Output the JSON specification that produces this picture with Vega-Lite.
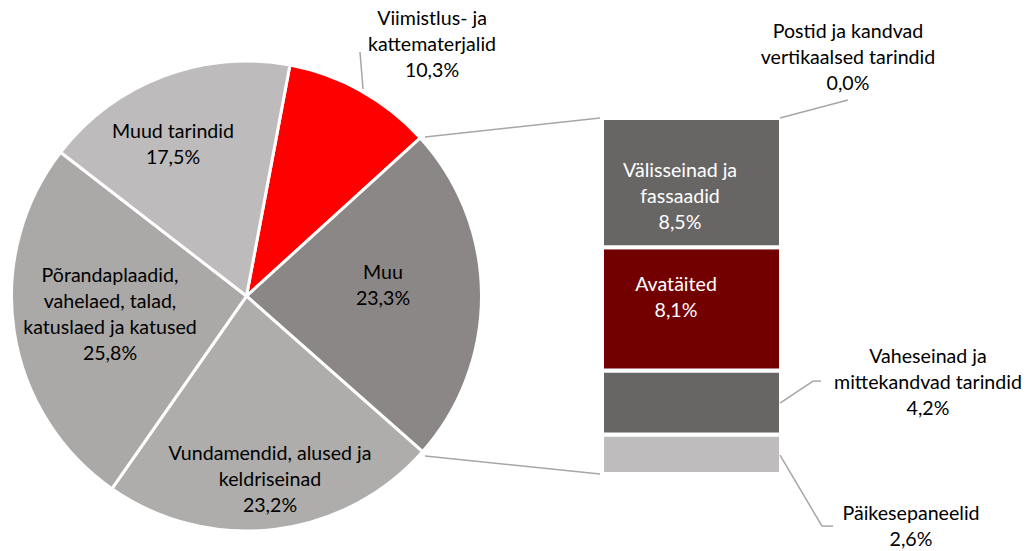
{
  "$schema": "https://vega.github.io/schema/vega-lite/v6.json",
  "width": 1030,
  "height": 551,
  "padding": 0,
  "autosize": {"type": "none"},
  "background": "white",
  "config": {
    "view": {"stroke": null},
    "text": {"font": "Lato", "fontSize": 19.6, "lineBreak": "\n", "lineHeight": 26, "baseline": "middle", "align": "center", "color": "#000000"}
  },
  "datasets": {
    "pie": [
      {"kategooria": "Viimistlus- ja\nkattematerjalid", "osakaal": 10.3, "jrk": 1},
      {"kategooria": "Muu", "osakaal": 23.3, "jrk": 2},
      {"kategooria": "Vundamendid, alused ja\nkeldriseinad", "osakaal": 23.2, "jrk": 3},
      {"kategooria": "Põrandaplaadid,\nvahelaed, talad,\nkatuslaed ja katused", "osakaal": 25.8, "jrk": 4},
      {"kategooria": "Muud tarindid", "osakaal": 17.5, "jrk": 5}
    ],
    "bar": [
      {"kategooria": "Päikesepaneelid", "osakaal": 2.6, "jrk": 1},
      {"kategooria": "Vaheseinad ja\nmittekandvad tarindid", "osakaal": 4.2, "jrk": 2},
      {"kategooria": "Avatäited", "osakaal": 8.1, "jrk": 3},
      {"kategooria": "Välisseinad ja\nfassaadid", "osakaal": 8.5, "jrk": 4},
      {"kategooria": "Postid ja kandvad\nvertikaalsed tarindid", "osakaal": 0.0, "jrk": 5}
    ]
  },
  "layer": [
    {
      "data": {"name": "pie"},
      "mark": {"type": "arc", "outerRadius": 235, "stroke": "white", "strokeWidth": 3, "strokeJoin": "round"},
      "encoding": {
        "theta": {"field": "osakaal", "type": "quantitative", "stack": true, "scale": {"range": [0.186, 6.469]}},
        "order": {"field": "jrk", "type": "quantitative"},
        "color": {"field": "jrk", "type": "nominal", "scale": {"domain": [1, 2, 3, 4, 5], "range": ["#FF0000", "#8B8786", "#AEADAC", "#ABA9A8", "#BDBBBC"]}, "legend": null},
        "x": {"datum": 246.5, "type": "quantitative", "scale": {"domain": [0, 1030], "nice": false, "zero": false}, "axis": null},
        "y": {"datum": 11.697, "type": "quantitative", "scale": {"domain": [-5.062, 31.158], "nice": false, "zero": false}, "axis": null}
      }
    },
    {
      "data": {"name": "bar"},
      "transform": [{"stack": "osakaal", "groupby": [], "sort": [{"field": "jrk", "order": "ascending"}], "as": ["y0", "y1"]}],
      "mark": {"type": "bar", "stroke": "white", "strokeWidth": 4},
      "encoding": {
        "x": {"datum": 602, "type": "quantitative", "scale": {"domain": [0, 1030], "nice": false, "zero": false}, "axis": null},
        "x2": {"datum": 781},
        "y": {"field": "y0", "type": "quantitative", "scale": {"domain": [-5.062, 31.158], "nice": false, "zero": false}, "axis": null},
        "y2": {"field": "y1"},
        "fill": {"field": "jrk", "type": "nominal", "scale": {"domain": [1, 2, 3, 4, 5], "range": ["#BEBCBD", "#686664", "#720000", "#686664", "#686664"]}, "legend": null}
      }
    },
    {
      "data": {"values": [{}]},
      "mark": {"type": "rule", "color": "#A6A6A6", "strokeWidth": 1.5},
      "encoding": {
        "x": {"datum": 425, "type": "quantitative", "scale": {"domain": [0, 1030], "nice": false, "zero": false}, "axis": null},
        "y": {"datum": 22.151, "type": "quantitative", "scale": {"domain": [-5.062, 31.158], "nice": false, "zero": false}, "axis": null},
        "x2": {"datum": 600},
        "y2": {"datum": 23.4}
      }
    },
    {
      "data": {"values": [{}]},
      "mark": {"type": "rule", "color": "#A6A6A6", "strokeWidth": 1.5},
      "encoding": {
        "x": {"datum": 425, "type": "quantitative", "scale": {"domain": [0, 1030], "nice": false, "zero": false}, "axis": null},
        "y": {"datum": 1.178, "type": "quantitative", "scale": {"domain": [-5.062, 31.158], "nice": false, "zero": false}, "axis": null},
        "x2": {"datum": 600},
        "y2": {"datum": 0}
      }
    },
    {
      "data": {"values": [{}]},
      "mark": {"type": "rule", "color": "#A6A6A6", "strokeWidth": 1.5},
      "encoding": {
        "x": {"datum": 780, "type": "quantitative", "scale": {"domain": [0, 1030], "nice": false, "zero": false}, "axis": null},
        "y": {"datum": 23.4, "type": "quantitative", "scale": {"domain": [-5.062, 31.158], "nice": false, "zero": false}, "axis": null},
        "x2": {"datum": 848},
        "y2": {"datum": 24.583}
      }
    },
    {
      "data": {"values": [{}]},
      "mark": {"type": "rule", "color": "#A6A6A6", "strokeWidth": 1.5},
      "encoding": {
        "x": {"datum": 780, "type": "quantitative", "scale": {"domain": [0, 1030], "nice": false, "zero": false}, "axis": null},
        "y": {"datum": 4.662, "type": "quantitative", "scale": {"domain": [-5.062, 31.158], "nice": false, "zero": false}, "axis": null},
        "x2": {"datum": 813},
        "y2": {"datum": 6.108}
      }
    },
    {
      "data": {"values": [{}]},
      "mark": {"type": "rule", "color": "#A6A6A6", "strokeWidth": 1.5},
      "encoding": {
        "x": {"datum": 813, "type": "quantitative", "scale": {"domain": [0, 1030], "nice": false, "zero": false}, "axis": null},
        "y": {"datum": 6.108, "type": "quantitative", "scale": {"domain": [-5.062, 31.158], "nice": false, "zero": false}, "axis": null},
        "x2": {"datum": 821},
        "y2": {"datum": 6.108}
      }
    },
    {
      "data": {"values": [{}]},
      "mark": {"type": "rule", "color": "#A6A6A6", "strokeWidth": 1.5},
      "encoding": {
        "x": {"datum": 780, "type": "quantitative", "scale": {"domain": [0, 1030], "nice": false, "zero": false}, "axis": null},
        "y": {"datum": 1.244, "type": "quantitative", "scale": {"domain": [-5.062, 31.158], "nice": false, "zero": false}, "axis": null},
        "x2": {"datum": 822},
        "y2": {"datum": -3.425}
      }
    },
    {
      "data": {"values": [{}]},
      "mark": {"type": "rule", "color": "#A6A6A6", "strokeWidth": 1.5},
      "encoding": {
        "x": {"datum": 822, "type": "quantitative", "scale": {"domain": [0, 1030], "nice": false, "zero": false}, "axis": null},
        "y": {"datum": -3.425, "type": "quantitative", "scale": {"domain": [-5.062, 31.158], "nice": false, "zero": false}, "axis": null},
        "x2": {"datum": 833},
        "y2": {"datum": -3.425}
      }
    },
    {
      "data": {"values": [{}]},
      "mark": {"type": "rule", "color": "#A6A6A6", "strokeWidth": 1.5},
      "encoding": {
        "x": {"datum": 360, "type": "quantitative", "scale": {"domain": [0, 1030], "nice": false, "zero": false}, "axis": null},
        "y": {"datum": 27.739, "type": "quantitative", "scale": {"domain": [-5.062, 31.158], "nice": false, "zero": false}, "axis": null},
        "x2": {"datum": 363},
        "y2": {"datum": 25.307}
      }
    },
    {
      "data": {"name": "pie"},
      "transform": [{"filter": "datum.jrk == 1"}, {"calculate": "datum.kategooria + '\\n' + replace(format(datum.osakaal, '.1f'), '.', ',') + '%'", "as": "silt"}],
      "mark": {"type": "text", "dy": -26},
      "encoding": {
        "x": {"datum": 432, "type": "quantitative", "scale": {"domain": [0, 1030], "nice": false, "zero": false}, "axis": null},
        "y": {"datum": 28.199, "type": "quantitative", "scale": {"domain": [-5.062, 31.158], "nice": false, "zero": false}, "axis": null},
        "text": {"field": "silt"}
      }
    },
    {
      "data": {"name": "pie"},
      "transform": [{"filter": "datum.jrk == 2"}, {"calculate": "datum.kategooria + '\\n' + replace(format(datum.osakaal, '.1f'), '.', ',') + '%'", "as": "silt"}],
      "mark": {"type": "text", "dy": -13},
      "encoding": {
        "x": {"datum": 383, "type": "quantitative", "scale": {"domain": [0, 1030], "nice": false, "zero": false}, "axis": null},
        "y": {"datum": 12.355, "type": "quantitative", "scale": {"domain": [-5.062, 31.158], "nice": false, "zero": false}, "axis": null},
        "text": {"field": "silt"}
      }
    },
    {
      "data": {"name": "pie"},
      "transform": [{"filter": "datum.jrk == 3"}, {"calculate": "datum.kategooria + '\\n' + replace(format(datum.osakaal, '.1f'), '.', ',') + '%'", "as": "silt"}],
      "mark": {"type": "text", "dy": -26},
      "encoding": {
        "x": {"datum": 270, "type": "quantitative", "scale": {"domain": [0, 1030], "nice": false, "zero": false}, "axis": null},
        "y": {"datum": -0.4, "type": "quantitative", "scale": {"domain": [-5.062, 31.158], "nice": false, "zero": false}, "axis": null},
        "text": {"field": "silt"}
      }
    },
    {
      "data": {"name": "pie"},
      "transform": [{"filter": "datum.jrk == 4"}, {"calculate": "datum.kategooria + '\\n' + replace(format(datum.osakaal, '.1f'), '.', ',') + '%'", "as": "silt"}],
      "mark": {"type": "text", "dy": -39},
      "encoding": {
        "x": {"datum": 110, "type": "quantitative", "scale": {"domain": [0, 1030], "nice": false, "zero": false}, "axis": null},
        "y": {"datum": 10.448, "type": "quantitative", "scale": {"domain": [-5.062, 31.158], "nice": false, "zero": false}, "axis": null},
        "text": {"field": "silt"}
      }
    },
    {
      "data": {"name": "pie"},
      "transform": [{"filter": "datum.jrk == 5"}, {"calculate": "datum.kategooria + '\\n' + replace(format(datum.osakaal, '.1f'), '.', ',') + '%'", "as": "silt"}],
      "mark": {"type": "text", "dy": -13},
      "encoding": {
        "x": {"datum": 173, "type": "quantitative", "scale": {"domain": [0, 1030], "nice": false, "zero": false}, "axis": null},
        "y": {"datum": 21.625, "type": "quantitative", "scale": {"domain": [-5.062, 31.158], "nice": false, "zero": false}, "axis": null},
        "text": {"field": "silt"}
      }
    },
    {
      "data": {"name": "bar"},
      "transform": [{"filter": "datum.jrk == 1"}, {"calculate": "datum.kategooria + '\\n' + replace(format(datum.osakaal, '.1f'), '.', ',') + '%'", "as": "silt"}],
      "mark": {"type": "text", "dy": -13},
      "encoding": {
        "x": {"datum": 911, "type": "quantitative", "scale": {"domain": [0, 1030], "nice": false, "zero": false}, "axis": null},
        "y": {"datum": -3.457, "type": "quantitative", "scale": {"domain": [-5.062, 31.158], "nice": false, "zero": false}, "axis": null},
        "text": {"field": "silt"}
      }
    },
    {
      "data": {"name": "bar"},
      "transform": [{"filter": "datum.jrk == 2"}, {"calculate": "datum.kategooria + '\\n' + replace(format(datum.osakaal, '.1f'), '.', ',') + '%'", "as": "silt"}],
      "mark": {"type": "text", "dy": -26},
      "encoding": {
        "x": {"datum": 928, "type": "quantitative", "scale": {"domain": [0, 1030], "nice": false, "zero": false}, "axis": null},
        "y": {"datum": 5.977, "type": "quantitative", "scale": {"domain": [-5.062, 31.158], "nice": false, "zero": false}, "axis": null},
        "text": {"field": "silt"}
      }
    },
    {
      "data": {"name": "bar"},
      "transform": [{"filter": "datum.jrk == 3"}, {"calculate": "datum.kategooria + '\\n' + replace(format(datum.osakaal, '.1f'), '.', ',') + '%'", "as": "silt"}],
      "mark": {"type": "text", "color": "#FFFFFF", "dy": -13},
      "encoding": {
        "x": {"datum": 676, "type": "quantitative", "scale": {"domain": [0, 1030], "nice": false, "zero": false}, "axis": null},
        "y": {"datum": 11.566, "type": "quantitative", "scale": {"domain": [-5.062, 31.158], "nice": false, "zero": false}, "axis": null},
        "text": {"field": "silt"}
      }
    },
    {
      "data": {"name": "bar"},
      "transform": [{"filter": "datum.jrk == 4"}, {"calculate": "datum.kategooria + '\\n' + replace(format(datum.osakaal, '.1f'), '.', ',') + '%'", "as": "silt"}],
      "mark": {"type": "text", "color": "#FFFFFF", "dy": -26},
      "encoding": {
        "x": {"datum": 680, "type": "quantitative", "scale": {"domain": [0, 1030], "nice": false, "zero": false}, "axis": null},
        "y": {"datum": 18.206, "type": "quantitative", "scale": {"domain": [-5.062, 31.158], "nice": false, "zero": false}, "axis": null},
        "text": {"field": "silt"}
      }
    },
    {
      "data": {"name": "bar"},
      "transform": [{"filter": "datum.jrk == 5"}, {"calculate": "datum.kategooria + '\\n' + replace(format(datum.osakaal, '.1f'), '.', ',') + '%'", "as": "silt"}],
      "mark": {"type": "text", "dy": -26},
      "encoding": {
        "x": {"datum": 848, "type": "quantitative", "scale": {"domain": [0, 1030], "nice": false, "zero": false}, "axis": null},
        "y": {"datum": 27.378, "type": "quantitative", "scale": {"domain": [-5.062, 31.158], "nice": false, "zero": false}, "axis": null},
        "text": {"field": "silt"}
      }
    }
  ],
  "resolve": {"scale": {"color": "independent", "fill": "independent", "theta": "independent"}}
}
